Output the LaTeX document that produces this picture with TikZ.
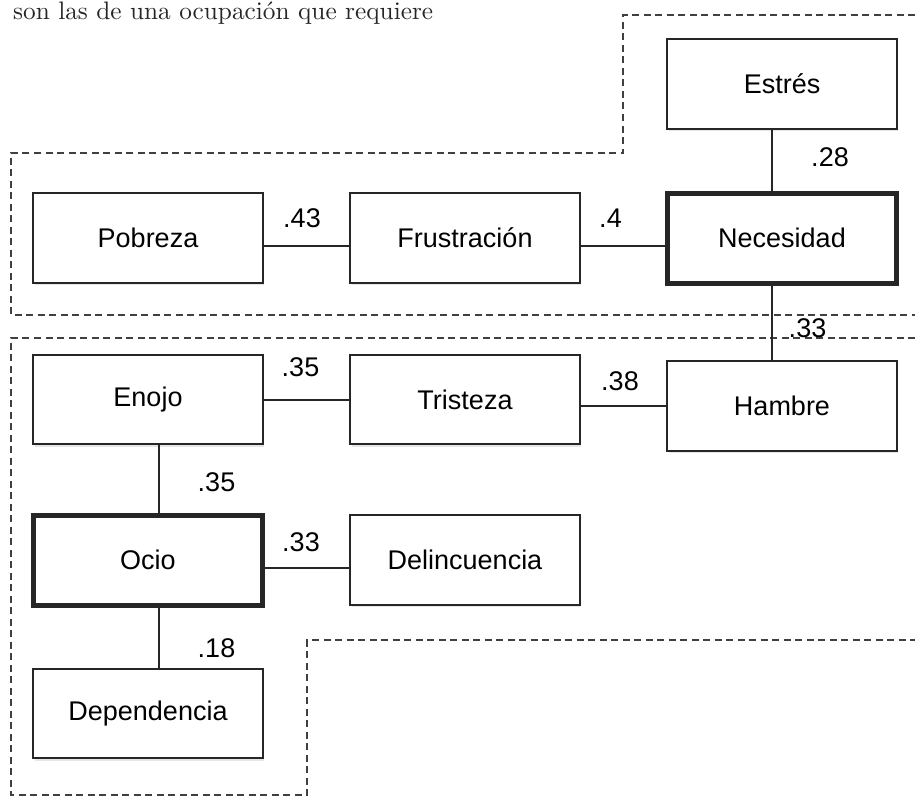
\documentclass[tikz,border=0pt]{standalone}
\usepackage{fontspec}
\newfontfamily\boxfont{Liberation Sans}
\newfontfamily\introfont{lmroman10-regular}[Extension=.otf]
\usetikzlibrary{shadows}

\begin{document}
\begin{tikzpicture}[x=1pt,y=-1pt]
      \tikzset{
        node distance=317pt,
        box/.style={rectangle,draw=black!85,line width=2.4pt,fill=white,inner sep=0pt,
          minimum width=229.5pt,minimum height=89.5pt,font=\boxfont\fontsize{27}{30}\selectfont,
          drop shadow={shadow xshift=1.5pt,shadow yshift=-2.5pt,opacity=0.2}},
        key/.style={box,line width=5pt,minimum height=90pt,minimum width=229pt},
        wt/.style={inner sep=0pt,font=\boxfont\fontsize{27}{30}\selectfont},
        link/.style={line width=2pt,draw=black!85},
        zone/.style={line width=2pt,draw=black!75,dash pattern=on 7pt off 4.5pt}
      }
      \useasboundingbox (0,0) rectangle (915,797);

      \node[anchor=base west,inner sep=0pt,text=black!85,font=\introfont\fontsize{25.3}{28}\selectfont] (intro) at (13,20) {son las de una ocupación que requiere};

      % dashed groups
      \draw[zone] (915,15) -- (623,15) -- (623,153) -- (11,153) -- (11,315) -- (915,315);
      \draw[zone] (915,338) -- (11,338) -- (11,795) -- (307,795) -- (307,640) -- (915,640);

      \node[box] (pob) at (148,238) {Pobreza};
      \node[box,right of=pob] (fru) {Frustración};
      \node[key,right of=fru] (nec) {Necesidad};
      \node[box,node distance=154pt,above of=nec] (est) {Estrés};
      \node[box,node distance=161.5pt,below of=pob] (enojo) {Enojo};
      \node[box,right of=enojo] (tris) {Tristeza};
      \node[box,right of=tris,yshift=-6.5pt] (hambre) {Hambre};
      \node[key,node distance=160.5pt,below of=enojo] (ocio) {Ocio};
      \node[box,right of=ocio] (delin) {Delincuencia};
      \node[box,node distance=153.5pt,below of=ocio] (dep) {Dependencia};

      \draw[link] ([xshift=-10pt]est.south) -- ([xshift=-10pt]nec.north);
      \draw[link] ([yshift=-8pt]pob.east) -- ([yshift=-8pt]fru.west);
      \draw[link] ([yshift=-8pt]fru.east) -- ([yshift=-8pt]nec.west);
      \draw[link] ([xshift=-10pt]nec.south) -- ([xshift=-10pt]hambre.north);
      \draw[link] (enojo) -- (tris);
      \draw[link] (hambre.west -| tris.east) -- (hambre.west);
      \draw[link] ([xshift=11pt]enojo.south) -- ([xshift=11pt]ocio.north);
      \draw[link] ([yshift=-8pt]ocio.east) -- ([yshift=-8pt]delin.west);
      \draw[link] ([xshift=11pt]ocio.south) -- ([xshift=11pt]dep.north);

      % weights
      \node[wt] (w43) at (302,218.5) {.43};
      \node[wt] (w4) at (610.5,218.5) {.4};
      \node[wt] (w28) at (830,157) {.28};
      \node[wt] (w33a) at (807.5,328.5) {.33};
      \node[wt] (w35a) at (300.5,367) {.35};
      \node[wt] (w38) at (620,381) {.38};
      \node[wt] (w35b) at (216.5,482) {.35};
      \node[wt] (w33b) at (301,542) {.33};
      \node[wt] (w18) at (216.5,648) {.18};
    \end{tikzpicture}
\end{document}
